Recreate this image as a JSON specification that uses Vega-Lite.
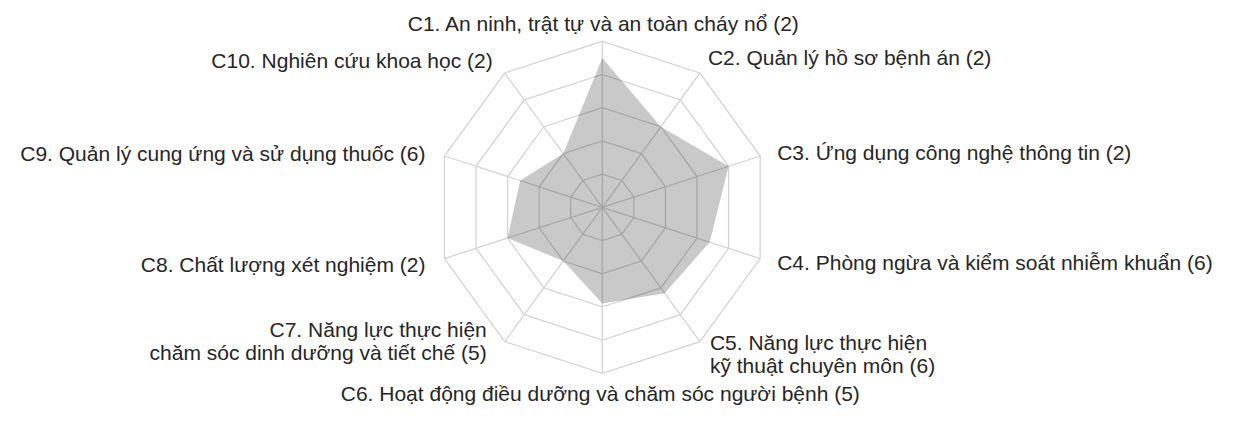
{
  "$schema": "https://vega.github.io/schema/vega-lite/v6.json",
  "width": 1241,
  "height": 421,
  "autosize": "none",
  "padding": 0,
  "background": "white",
  "config": {"view": {"stroke": null}, "axis": {"disable": true}},
  "datasets": {
    "crit": [
      {"order": 1, "label": "C1. An ninh, trật tự và an toàn cháy nổ (2)", "score": 4.5},
      {"order": 2, "label": "C2. Quản lý hồ sơ bệnh án (2)", "score": 3.0},
      {"order": 3, "label": "C3. Ứng dụng công nghệ thông tin (2)", "score": 4.0},
      {"order": 4, "label": "C4. Phòng ngừa và kiểm soát nhiễm khuẩn (6)", "score": 3.4},
      {"order": 5, "label": "C5. Năng lực thực hiện\nkỹ thuật chuyên môn (6)", "score": 3.2},
      {"order": 6, "label": "C6. Hoạt động điều dưỡng và chăm sóc người bệnh (5)", "score": 2.9},
      {"order": 7, "label": "C7. Năng lực thực hiện\nchăm sóc dinh dưỡng và tiết chế (5)", "score": 2.0},
      {"order": 8, "label": "C8. Chất lượng xét nghiệm (2)", "score": 3.0},
      {"order": 9, "label": "C9. Quản lý cung ứng và sử dụng thuốc (6)", "score": 2.6},
      {"order": 10, "label": "C10. Nghiên cứu khoa học (2)", "score": 2.0}
    ],
    "rings": [
      {"level": 1, "order": 1}, {"level": 1, "order": 2}, {"level": 1, "order": 3}, {"level": 1, "order": 4}, {"level": 1, "order": 5},
      {"level": 1, "order": 6}, {"level": 1, "order": 7}, {"level": 1, "order": 8}, {"level": 1, "order": 9}, {"level": 1, "order": 10},
      {"level": 2, "order": 1}, {"level": 2, "order": 2}, {"level": 2, "order": 3}, {"level": 2, "order": 4}, {"level": 2, "order": 5},
      {"level": 2, "order": 6}, {"level": 2, "order": 7}, {"level": 2, "order": 8}, {"level": 2, "order": 9}, {"level": 2, "order": 10},
      {"level": 3, "order": 1}, {"level": 3, "order": 2}, {"level": 3, "order": 3}, {"level": 3, "order": 4}, {"level": 3, "order": 5},
      {"level": 3, "order": 6}, {"level": 3, "order": 7}, {"level": 3, "order": 8}, {"level": 3, "order": 9}, {"level": 3, "order": 10},
      {"level": 4, "order": 1}, {"level": 4, "order": 2}, {"level": 4, "order": 3}, {"level": 4, "order": 4}, {"level": 4, "order": 5},
      {"level": 4, "order": 6}, {"level": 4, "order": 7}, {"level": 4, "order": 8}, {"level": 4, "order": 9}, {"level": 4, "order": 10},
      {"level": 5, "order": 1}, {"level": 5, "order": 2}, {"level": 5, "order": 3}, {"level": 5, "order": 4}, {"level": 5, "order": 5},
      {"level": 5, "order": 6}, {"level": 5, "order": 7}, {"level": 5, "order": 8}, {"level": 5, "order": 9}, {"level": 5, "order": 10}
    ]
  },
  "layer": [
    {
      "data": {"name": "rings"},
      "transform": [
        {"calculate": "(datum.order - 1) * PI / 5", "as": "a"},
        {"calculate": "datum.level * sin(datum.a)", "as": "rx"},
        {"calculate": "datum.level * cos(datum.a)", "as": "ry"}
      ],
      "mark": {"type": "line", "interpolate": "linear-closed", "color": "#d4d4d4", "strokeWidth": 1.3},
      "encoding": {
        "x": {"field": "rx", "type": "quantitative", "scale": {"domain": [-18.142, 19.238], "nice": false, "zero": false}, "axis": null},
        "y": {"field": "ry", "type": "quantitative", "scale": {"domain": [-6.437, 6.244], "nice": false, "zero": false}, "axis": null},
        "detail": {"field": "level", "type": "nominal"},
        "order": {"field": "order", "type": "quantitative"}
      }
    },
    {
      "data": {"name": "crit"},
      "transform": [
        {"calculate": "(datum.order - 1) * PI / 5", "as": "a"},
        {"calculate": "5 * sin(datum.a)", "as": "x5"},
        {"calculate": "5 * cos(datum.a)", "as": "y5"},
        {"calculate": "0", "as": "z"}
      ],
      "mark": {"type": "rule", "color": "#d4d4d4", "strokeWidth": 1.3},
      "encoding": {
        "x": {"field": "z", "type": "quantitative", "scale": {"domain": [-18.142, 19.238], "nice": false, "zero": false}, "axis": null},
        "y": {"field": "z", "type": "quantitative", "scale": {"domain": [-6.437, 6.244], "nice": false, "zero": false}, "axis": null},
        "x2": {"field": "x5"},
        "y2": {"field": "y5"}
      }
    },
    {
      "data": {"name": "crit"},
      "transform": [
        {"calculate": "(datum.order - 1) * PI / 5", "as": "a"},
        {"calculate": "datum.score * sin(datum.a)", "as": "px"},
        {"calculate": "datum.score * cos(datum.a)", "as": "py"}
      ],
      "mark": {"type": "line", "interpolate": "linear-closed", "fill": "#000000", "fillOpacity": 0.21, "stroke": "#000000", "strokeOpacity": 0, "strokeWidth": 0},
      "encoding": {
        "x": {"field": "px", "type": "quantitative", "scale": {"domain": [-18.142, 19.238], "nice": false, "zero": false}, "axis": null},
        "y": {"field": "py", "type": "quantitative", "scale": {"domain": [-6.437, 6.244], "nice": false, "zero": false}, "axis": null},
        "order": {"field": "order", "type": "quantitative"}
      }
    },
    {
      "data": {"name": "crit"},
      "transform": [
        {"calculate": "(datum.order - 1) * PI / 5", "as": "a"},
        {"calculate": "5 * sin(datum.a)", "as": "x5"},
        {"calculate": "5 * cos(datum.a)", "as": "y5"}
      ],
      "encoding": {
        "x": {"field": "x5", "type": "quantitative", "scale": {"domain": [-18.142, 19.238], "nice": false, "zero": false}, "axis": null},
        "y": {"field": "y5", "type": "quantitative", "scale": {"domain": [-6.437, 6.244], "nice": false, "zero": false}, "axis": null},
        "text": {"field": "label", "type": "nominal"}
      },
      "layer": [
        {"transform": [{"filter": "datum.order == 1"}], "mark": {"type": "text", "align": "center", "baseline": "alphabetic", "dx": 1, "dy": -10, "font": "Liberation Sans", "fontSize": 21, "letterSpacing": 1, "color": "#262626", "lineBreak": "\n", "lineHeight": 23}},
        {"transform": [{"filter": "datum.order == 2"}], "mark": {"type": "text", "align": "left", "baseline": "alphabetic", "dx": 8, "dy": -8, "font": "Liberation Sans", "fontSize": 21, "letterSpacing": 1, "color": "#262626", "lineBreak": "\n", "lineHeight": 23}},
        {"transform": [{"filter": "datum.order == 3"}], "mark": {"type": "text", "align": "left", "baseline": "alphabetic", "dx": 17, "dy": 4, "font": "Liberation Sans", "fontSize": 21, "letterSpacing": 1, "color": "#262626", "lineBreak": "\n", "lineHeight": 23}},
        {"transform": [{"filter": "datum.order == 4"}], "mark": {"type": "text", "align": "left", "baseline": "alphabetic", "dx": 17, "dy": 11, "font": "Liberation Sans", "fontSize": 21, "letterSpacing": 1, "color": "#262626", "lineBreak": "\n", "lineHeight": 23}},
        {"transform": [{"filter": "datum.order == 5"}], "mark": {"type": "text", "align": "left", "baseline": "alphabetic", "dx": 10, "dy": 8, "font": "Liberation Sans", "fontSize": 21, "letterSpacing": 1, "color": "#262626", "lineBreak": "\n", "lineHeight": 23}},
        {"transform": [{"filter": "datum.order == 6"}], "mark": {"type": "text", "align": "center", "baseline": "alphabetic", "dx": -2, "dy": 28, "font": "Liberation Sans", "fontSize": 21, "letterSpacing": 1, "color": "#262626", "lineBreak": "\n", "lineHeight": 23}},
        {"transform": [{"filter": "datum.order == 7"}], "mark": {"type": "text", "align": "right", "baseline": "alphabetic", "dx": -18, "dy": -5, "font": "Liberation Sans", "fontSize": 21, "letterSpacing": 1, "color": "#262626", "lineBreak": "\n", "lineHeight": 23}},
        {"transform": [{"filter": "datum.order == 8"}], "mark": {"type": "text", "align": "right", "baseline": "alphabetic", "dx": -19, "dy": 13, "font": "Liberation Sans", "fontSize": 21, "letterSpacing": 1, "color": "#262626", "lineBreak": "\n", "lineHeight": 23}},
        {"transform": [{"filter": "datum.order == 9"}], "mark": {"type": "text", "align": "right", "baseline": "alphabetic", "dx": -19, "dy": 5, "font": "Liberation Sans", "fontSize": 21, "letterSpacing": 1, "color": "#262626", "lineBreak": "\n", "lineHeight": 23}},
        {"transform": [{"filter": "datum.order == 10"}], "mark": {"type": "text", "align": "right", "baseline": "alphabetic", "dx": -12, "dy": -5, "font": "Liberation Sans", "fontSize": 21, "letterSpacing": 1, "color": "#262626", "lineBreak": "\n", "lineHeight": 23}}
      ]
    }
  ]
}
